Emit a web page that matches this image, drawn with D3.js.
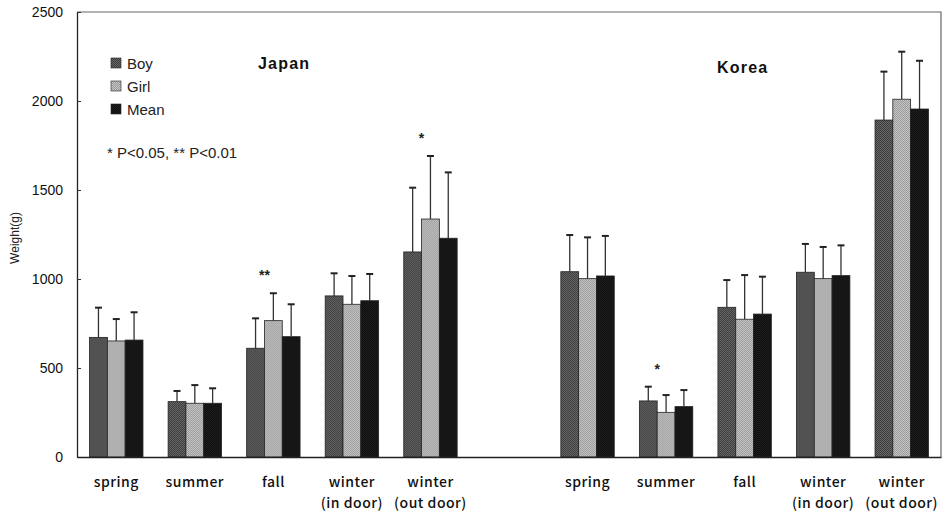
<!DOCTYPE html>
<html>
<head>
<meta charset="utf-8">
<script src="https://cdn.jsdelivr.net/npm/d3@7"></script>
<style>
  body { margin: 0; background: #fff; }
  svg { display: block; }
</style>
</head>
<body>
<svg id="chart" width="944" height="513"></svg>
<script>
// ---- data ----
const countries = ["Japan", "Korea"];
const seasons = ["spring", "summer", "fall", "winter\n(in door)", "winter\n(out door)"];
const seriesNames = ["Boy", "Girl", "Mean"];

const japanBoy  = [672, 311, 611, 905, 1152];
const japanGirl = [652, 302, 766, 858, 1337];
const japanMean = [657, 302, 676, 878, 1229];
const japanBoySD  = [167, 60, 168, 127, 361];
const japanGirlSD = [123, 102, 154, 159, 354];
const japanMeanSD = [156, 84, 182, 150, 370];

const koreaBoy  = [1041, 315, 841, 1038, 1893];
const koreaGirl = [1002, 251, 774, 1002, 2010];
const koreaMean = [1017, 283, 803, 1019, 1955];
const koreaBoySD  = [206, 80, 153, 159, 272];
const koreaGirlSD = [232, 97, 248, 178, 267];
const koreaMeanSD = [225, 93, 210, 170, 271];

const japanSig = ["", "", "**", "", "*"];
const koreaSig = ["", "*", "", "", ""];

const yTicks = [0, 500, 1000, 1500, 2000, 2500];
const legendNote = "* P<0.05, ** P<0.01";

// ---- build table ----
const valueTable = {
  Japan: { Boy: japanBoy, Girl: japanGirl, Mean: japanMean },
  Korea: { Boy: koreaBoy, Girl: koreaGirl, Mean: koreaMean }
};
const sdTable = {
  Japan: { Boy: japanBoySD, Girl: japanGirlSD, Mean: japanMeanSD },
  Korea: { Boy: koreaBoySD, Girl: koreaGirlSD, Mean: koreaMeanSD }
};
const sigTable = { Japan: japanSig, Korea: koreaSig };

const keys = [];
const groups = [];
countries.forEach((c, ci) => {
  if (ci > 0) keys.push("gap");
  seasons.forEach((s, si) => {
    const k = c + "|" + si;
    keys.push(k);
    groups.push({
      key: k, country: c, season: s, sig: sigTable[c][si],
      bars: seriesNames.map(n => ({ name: n, value: valueTable[c][n][si], sd: sdTable[c][n][si] }))
    });
  });
});

// ---- layout ----
const svg = d3.select("#chart");
const mLeft = 77, mRight = 941, mTop = 12, mBottom = 457;

const x0 = d3.scaleBand().domain(keys).range([mLeft, mRight]).paddingInner(0.32).paddingOuter(0.16);
const x1 = d3.scaleBand().domain(seriesNames).range([0, x0.bandwidth()]);
const y = d3.scaleLinear().domain([0, 2500]).range([mBottom, mTop]);

// patterns
const defs = svg.append("defs");
const patColors = { Boy: ["#3a3a3a", "#6a6a6a"], Girl: ["#9a9a9a", "#c6c6c6"], Mean: ["#0e0e0e", "#1e1e1e"] };
seriesNames.forEach(n => {
  const p = defs.append("pattern").attr("id", "pat" + n).attr("width", 2).attr("height", 2)
    .attr("patternUnits", "userSpaceOnUse");
  p.append("rect").attr("width", 2).attr("height", 2).attr("fill", patColors[n][0]);
  p.append("rect").attr("width", 1).attr("height", 1).attr("fill", patColors[n][1]);
  p.append("rect").attr("x", 1).attr("y", 1).attr("width", 1).attr("height", 1).attr("fill", patColors[n][1]);
});

// frame (top & right)
svg.append("path")
  .attr("d", `M${mLeft},${mTop}H${mRight}V${mBottom}`)
  .attr("fill", "none").attr("stroke", "#666").attr("stroke-width", 1.2);

// y axis
const yAxis = d3.axisLeft(y).tickValues(yTicks).tickSizeInner(-4).tickSizeOuter(0).tickPadding(14)
  .tickFormat(d3.format("d"));
const gy = svg.append("g").attr("transform", `translate(${mLeft},0)`).call(yAxis);
gy.select(".domain").attr("stroke", "#222").attr("stroke-width", 1.3);
gy.selectAll(".tick line").attr("stroke", "#333");
gy.selectAll(".tick text").attr("font-family", "Liberation Sans, Arial, sans-serif")
  .attr("font-size", 14).attr("fill", "#111");

svg.append("text")
  .attr("transform", "translate(19,238) rotate(-90)")
  .attr("text-anchor", "middle")
  .attr("font-family", "Liberation Sans, Arial, sans-serif").attr("font-size", 12).attr("fill", "#222")
  .text("Weight(g)");

// bars
const gGroups = svg.append("g").selectAll("g").data(groups).join("g")
  .attr("transform", d => `translate(${x0(d.key)},0)`);

gGroups.selectAll("rect").data(d => d.bars).join("rect")
  .attr("x", d => x1(d.name))
  .attr("y", d => y(d.value))
  .attr("width", x1.bandwidth())
  .attr("height", d => y(0) - y(d.value))
  .attr("fill", d => `url(#pat${d.name})`)
  .attr("stroke", "#222").attr("stroke-width", 0.8);

// error bars
const eb = gGroups.selectAll("g.err").data(d => d.bars).join("g").attr("class", "err");
eb.append("line")
  .attr("x1", d => x1(d.name) + x1.bandwidth() / 2).attr("x2", d => x1(d.name) + x1.bandwidth() / 2)
  .attr("y1", d => y(d.value)).attr("y2", d => y(d.value + d.sd))
  .attr("stroke", "#333").attr("stroke-width", 1.3);
eb.append("line")
  .attr("x1", d => x1(d.name) + x1.bandwidth() / 2 - 3.5).attr("x2", d => x1(d.name) + x1.bandwidth() / 2 + 3.5)
  .attr("y1", d => y(d.value + d.sd)).attr("y2", d => y(d.value + d.sd))
  .attr("stroke", "#222").attr("stroke-width", 2);

// significance marks
gGroups.filter(d => d.sig).append("text")
  .attr("x", d => x1("Girl"))
  .attr("y", d => y(d3.max(d.bars, b => b.value + b.sd)) - 13)
  .attr("text-anchor", "middle")
  .attr("font-family", "Liberation Sans, Arial, sans-serif").attr("font-size", 14)
  .attr("font-weight", "bold").attr("fill", "#222")
  .text(d => d.sig);

// x axis
const xAxis = d3.axisBottom(x0).tickSize(0).tickSizeOuter(0).tickFormat("");
const gx = svg.append("g").attr("transform", `translate(0,${mBottom})`).call(xAxis);
gx.select(".domain").attr("stroke", "#222").attr("stroke-width", 1.3);

const lab = svg.append("g").selectAll("text").data(groups).join("text")
  .attr("font-family", "Noto Sans CJK JP, sans-serif").attr("font-size", 14)
  .attr("font-weight", 500).attr("letter-spacing", 0.5).attr("fill", "#111")
  .attr("text-anchor", "middle");
lab.selectAll("tspan").data(d => d.season.split("\n").map(t => ({ t, x: x0(d.key) + x0.bandwidth() / 2 })))
  .join("tspan")
  .attr("x", d => d.x)
  .attr("y", (d, i) => 487 + i * 21)
  .text(d => d.t);

// country titles
const titlePos = { Japan: [258, 69], Korea: [717, 73] };
svg.append("g").selectAll("text").data(countries).join("text")
  .attr("x", d => titlePos[d][0]).attr("y", d => titlePos[d][1])
  .attr("font-family", "Liberation Sans, Arial, sans-serif").attr("font-weight", "bold")
  .attr("font-size", 16).attr("letter-spacing", 1.2).attr("fill", "#111")
  .text(d => d);

// legend
const lg = svg.append("g").attr("transform", "translate(111,58)");
const li = lg.selectAll("g").data(seriesNames).join("g").attr("transform", (d, i) => `translate(0,${i * 23})`);
li.append("rect").attr("width", 10).attr("height", 10)
  .attr("fill", d => `url(#pat${d})`).attr("stroke", "#222").attr("stroke-width", 0.6);
li.append("text").attr("x", 16).attr("y", 10.5)
  .attr("font-family", "Liberation Sans, Arial, sans-serif").attr("font-size", 15).attr("fill", "#222")
  .text(d => d);

svg.append("text").attr("x", 107).attr("y", 158)
  .attr("font-family", "Liberation Sans, Arial, sans-serif").attr("font-size", 15).attr("fill", "#222")
  .text(legendNote);
</script>
</body>
</html>
